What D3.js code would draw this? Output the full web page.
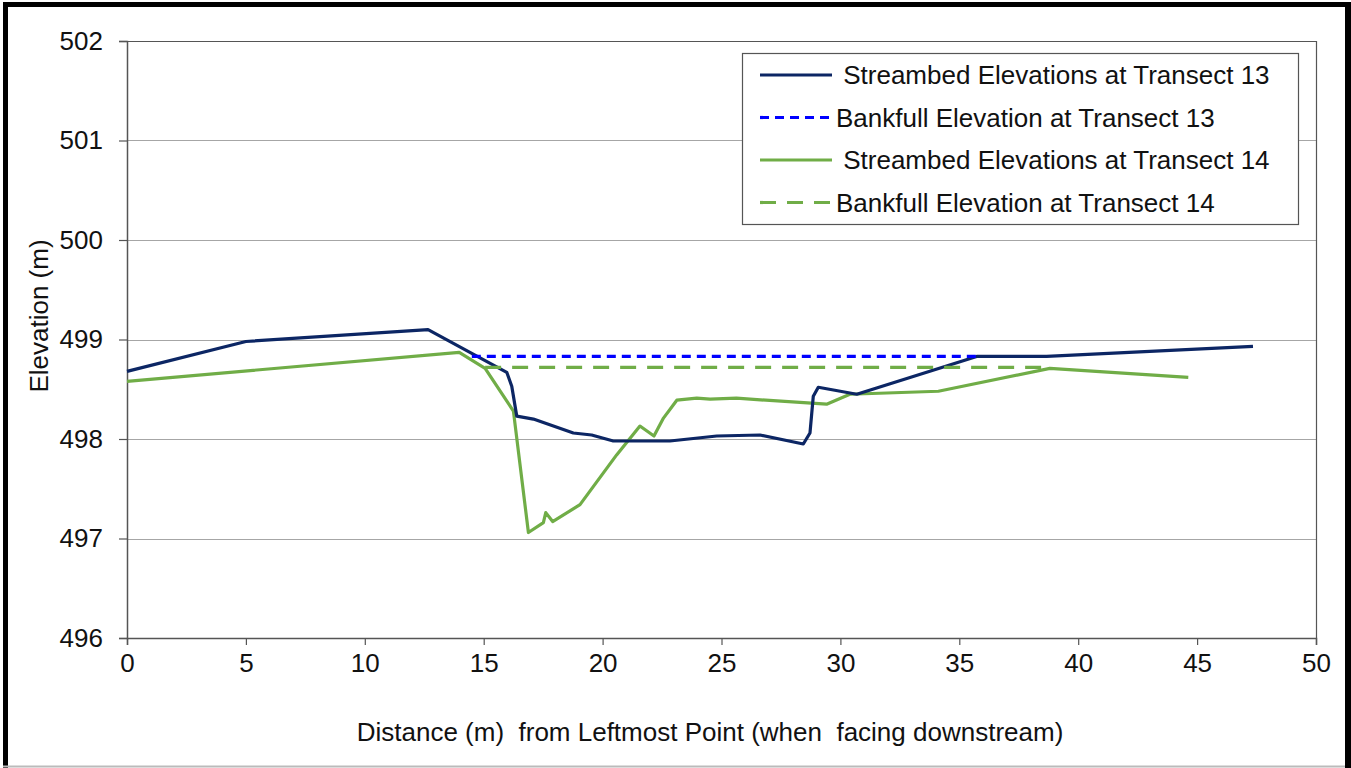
<!DOCTYPE html>
<html>
<head>
<meta charset="utf-8">
<script src="https://cdn.jsdelivr.net/npm/d3@7"></script>
<style>
  body { margin: 0; background: #fff; }
  text { font-family: Arial, "Liberation Sans", sans-serif; fill: #111; }
</style>
</head>
<body>
<div id="chart"></div>
<script>
var fw = 1351;
var fh = 768;

var mar = { top: 41, right: 35, bottom: 130, left: 127 };
var w = 1316 - mar.left;
var h = 638 - mar.top;

// transect 13 streambed
var t13x = [0, 5, 12.66, 15.97, 16.18, 16.39, 17.09, 18.77, 19.54, 20.45, 22.83, 24.80, 26.62, 28.44, 28.72, 28.86, 29.07, 30.69, 35.73, 38.67, 47.35];
var t13y = [498.68, 498.98, 499.10, 498.67, 498.53, 498.23, 498.20, 498.06, 498.04, 497.98, 497.98, 498.03, 498.04, 497.95, 498.06, 498.43, 498.52, 498.45, 498.83, 498.83, 498.93];

// transect 14 streambed
var t14x = [0, 13.97, 15.06, 16.25, 16.88, 17.51, 17.61, 17.90, 19.05, 20.59, 21.57, 22.16, 22.56, 23.12, 23.96, 24.52, 25.63, 29.42, 30.40, 34.12, 38.81, 44.63];
var t14y = [498.58, 498.87, 498.71, 498.28, 497.06, 497.16, 497.26, 497.17, 497.34, 497.84, 498.13, 498.03, 498.21, 498.39, 498.41, 498.40, 498.41, 498.35, 498.45, 498.48, 498.71, 498.62];

// bankfull levels
var bank13x = [14.5, 35.73];
var bank13y = [498.83, 498.83];
var bank14x = [15.06, 38.6];
var bank14y = [498.72, 498.72];

var xTicks = [0, 5, 10, 15, 20, 25, 30, 35, 40, 45, 50];
var yTicks = [496, 497, 498, 499, 500, 501, 502];

var seriesNames = [" Streambed Elevations at Transect 13", "Bankfull Elevation at Transect 13", " Streambed Elevations at Transect 14", "Bankfull Elevation at Transect 14"];

function pts(xs, ys) {
  return xs.map(function(d, i) { return [d, ys[i]]; });
}

var series = [
  { name: seriesNames[0], data: pts(t13x, t13y), color: "#0c2664", dash: null },
  { name: seriesNames[1], data: pts(bank13x, bank13y), color: "#0000ff", dash: "9,6" },
  { name: seriesNames[2], data: pts(t14x, t14y), color: "#70ad47", dash: null },
  { name: seriesNames[3], data: pts(bank14x, bank14y), color: "#70ad47", dash: "16,11" }
];

var root = d3.select("#chart")
    .append("svg")
    .attr("width", fw)
    .attr("height", fh);

// outer frame
root.append("rect").attr("x", 0).attr("y", 0).attr("width", fw).attr("height", fh).attr("fill", "#fff");
root.append("line").attr("x1", 5.5).attr("y1", 2).attr("x2", 5.5).attr("y2", fh).attr("stroke", "#000").attr("stroke-width", 5);
root.append("line").attr("x1", 3).attr("y1", 4.5).attr("x2", 1351).attr("y2", 4.5).attr("stroke", "#000").attr("stroke-width", 5);
root.append("line").attr("x1", 1348).attr("y1", 2).attr("x2", 1348).attr("y2", fh).attr("stroke", "#000").attr("stroke-width", 6);
root.append("line").attr("x1", 3).attr("y1", 766.5).attr("x2", 1345).attr("y2", 766.5).attr("stroke", "#bbb").attr("stroke-width", 2);

var svg = root.append("g")
    .attr("transform", "translate(" + mar.left + "," + mar.top + ")");

var x = d3.scaleLinear().domain([0, 50]).range([0, w]);
var y = d3.scaleLinear().domain([496, 502]).range([h, 0]);

// gridlines
svg.selectAll(".grid")
  .data(yTicks)
  .enter()
  .append("line")
  .attr("class", "grid")
  .attr("x1", 0)
  .attr("x2", w)
  .attr("y1", function(d) { return Math.round(y(d)) + 0.5; })
  .attr("y2", function(d) { return Math.round(y(d)) + 0.5; })
  .attr("stroke", "#a6a6a6")
  .attr("stroke-width", 1.2);

// plot border top / right
svg.append("line")
  .attr("x1", w + 0.5).attr("x2", w + 0.5)
  .attr("y1", 0).attr("y2", h)
  .attr("stroke", "#555").attr("stroke-width", 1.2);
svg.append("line")
  .attr("x1", 0).attr("x2", w)
  .attr("y1", 0.5).attr("y2", 0.5)
  .attr("stroke", "#555").attr("stroke-width", 1.2);

var xA = d3.axisBottom(x).tickValues(xTicks).tickSize(7).tickPadding(9).tickFormat(d3.format("d"));
var yA = d3.axisLeft(y).tickValues(yTicks).tickSize(8).tickPadding(16).tickFormat(d3.format("d"));

var gx = svg.append("g")
  .attr("transform", "translate(0," + h + ")")
  .call(xA);
var gy = svg.append("g").call(yA);

[gx, gy].forEach(function(g) {
  g.select(".domain").attr("stroke", "#555").attr("stroke-width", 1.5);
  g.selectAll(".tick line").attr("stroke", "#555").attr("stroke-width", 1.2);
  g.selectAll(".tick text")
    .style("font-family", "Arial, 'Liberation Sans', sans-serif")
    .style("font-size", "26px")
    .attr("fill", "#111");
});

// lines
var line = d3.line()
  .x(function(d) { return x(d[0]); })
  .y(function(d) { return y(d[1]); });

svg.selectAll(".series")
  .data([series[2], series[0], series[1], series[3]])
  .enter()
  .append("path")
  .attr("class", "series")
  .attr("d", function(d) { return line(d.data); })
  .attr("fill", "none")
  .attr("stroke", function(d) { return d.color; })
  .attr("stroke-width", 3.2)
  .attr("stroke-dasharray", function(d) { return d.dash; })
  .attr("stroke-linejoin", "round");

// axis labels
root.append("text")
  .attr("x", 710)
  .attr("y", 741)
  .style("text-anchor", "middle")
  .style("font-size", "26px")
  .style("white-space", "pre")
  .text("Distance (m)  from Leftmost Point (when  facing downstream)");

root.append("text")
  .attr("transform", "translate(48,316) rotate(-90)")
  .style("text-anchor", "middle")
  .style("font-size", "26px")
  .text("Elevation (m)");

// legend
var lg = root.append("g").attr("transform", "translate(742,53)");
lg.append("rect")
  .attr("x", 0.5).attr("y", 0.5)
  .attr("width", 556).attr("height", 171)
  .attr("fill", "#fff")
  .attr("stroke", "#555")
  .attr("stroke-width", 1.2);

var items = lg.selectAll(".item")
  .data(series)
  .enter()
  .append("g")
  .attr("class", "item")
  .attr("transform", function(d, i) { return "translate(0," + (22 + i * 42.5) + ")"; });

items.append("line")
  .attr("x1", 18).attr("x2", 90)
  .attr("y1", 0).attr("y2", 0)
  .attr("stroke", function(d) { return d.color; })
  .attr("stroke-width", 3.2)
  .attr("stroke-dasharray", function(d) { return d.dash; });

items.append("text")
  .attr("x", 94)
  .attr("y", 9)
  .style("font-size", "26px")
  .style("white-space", "pre")
  .text(function(d) { return d.name; });
</script>
</body>
</html>
